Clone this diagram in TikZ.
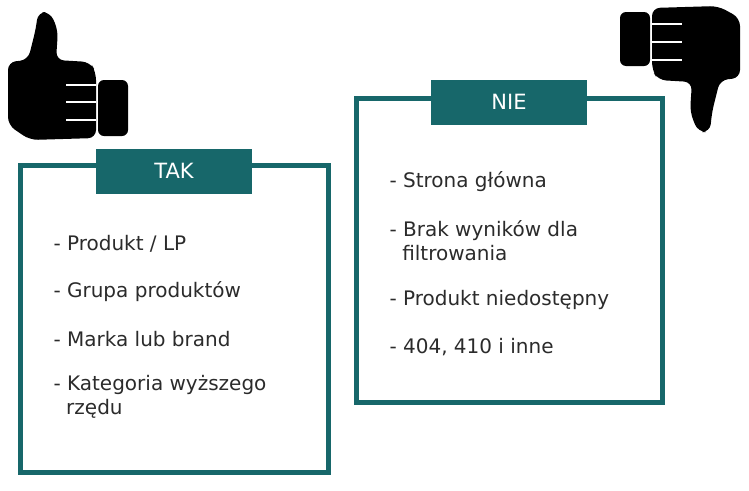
\documentclass[tikz,border=0pt]{standalone}
\usepackage{fontspec}
\setmainfont{DejaVu Sans}
\usetikzlibrary{positioning}
\definecolor{teal box}{HTML}{17676A}
\definecolor{item text}{HTML}{2B2B2B}
\tikzset{
    frame/.style = {
        draw = teal box,
        line width = 5pt,
        },
    tag/.style = {
        fill = teal box,
        text = white,
        minimum width = 156pt,
        minimum height = 45pt,
        font = \fontsize{21}{24}\selectfont,
        },
    item/.style = {
        text = item text,
        anchor = north west,
        align = left,
        font = \fontsize{20}{24}\selectfont,
        },
    hand/.style = {
        fill = black,
        },
}
\begin{document}
\begin{tikzpicture}[x=1pt,y=-1pt]
    \useasboundingbox (0,0) rectangle (749,490);
    % left box
    \draw[frame] (20,165) rectangle (328,472);
    \node[tag] (tak) at (174,171) {TAK};
    \node[item] (p1) at (50,232) {- Produkt / LP};
    \node[item, below=22pt of p1.south west, anchor=north west] (p2) {- Grupa produktów};
    \node[item, below=22pt of p2.south west, anchor=north west] (p3) {- Marka lub brand};
    \node[item, below=22pt of p3.south west, anchor=north west] (p4) {- Kategoria wyższego\\\ \ rzędu};
    % right box
    \draw[frame] (356,98) rectangle (662,402);
    \node[tag] (nie) at (509,102) {NIE};
    \node[item] (n1) at (386,168) {- Strona główna};
    \node[item, below=22pt of n1.south west, anchor=north west] (n2) {- Brak wyników dla\\\ \ filtrowania};
    \node[item, below=22pt of n2.south west, anchor=north west] (n3) {- Produkt niedostępny};
    \node[item, below=22pt of n3.south west, anchor=north west] (n4) {- 404, 410 i inne};
    % thumb up
    \fill[hand, rounded corners=6pt] (98,80) rectangle (128,136);
    \fill[hand, rounded corners=8pt] (8,62) -- (28,60) -- (36,28) -- (38,12) -- (50,12)
        -- (58,30) -- (56,60) -- (90,62) -- (96,72) -- (96,138) -- (30,140) -- (8,125) -- cycle;
    \foreach \y in {85,102,120}
        \draw[white, line width=2pt] (66,\y) -- (96,\y);
    % thumb down
    \fill[hand, rounded corners=6pt] (620,12) rectangle (650,66);
    \fill[hand, rounded corners=8pt] (740,78) -- (720,80) -- (712,112) -- (710,132) -- (698,132)
        -- (690,112) -- (692,82) -- (658,80) -- (652,70) -- (652,8) -- (718,6) -- (740,18) -- cycle;
    \foreach \y in {24,42,60}
        \draw[white, line width=2pt] (652,\y) -- (682,\y);
\end{tikzpicture}
\end{document}
